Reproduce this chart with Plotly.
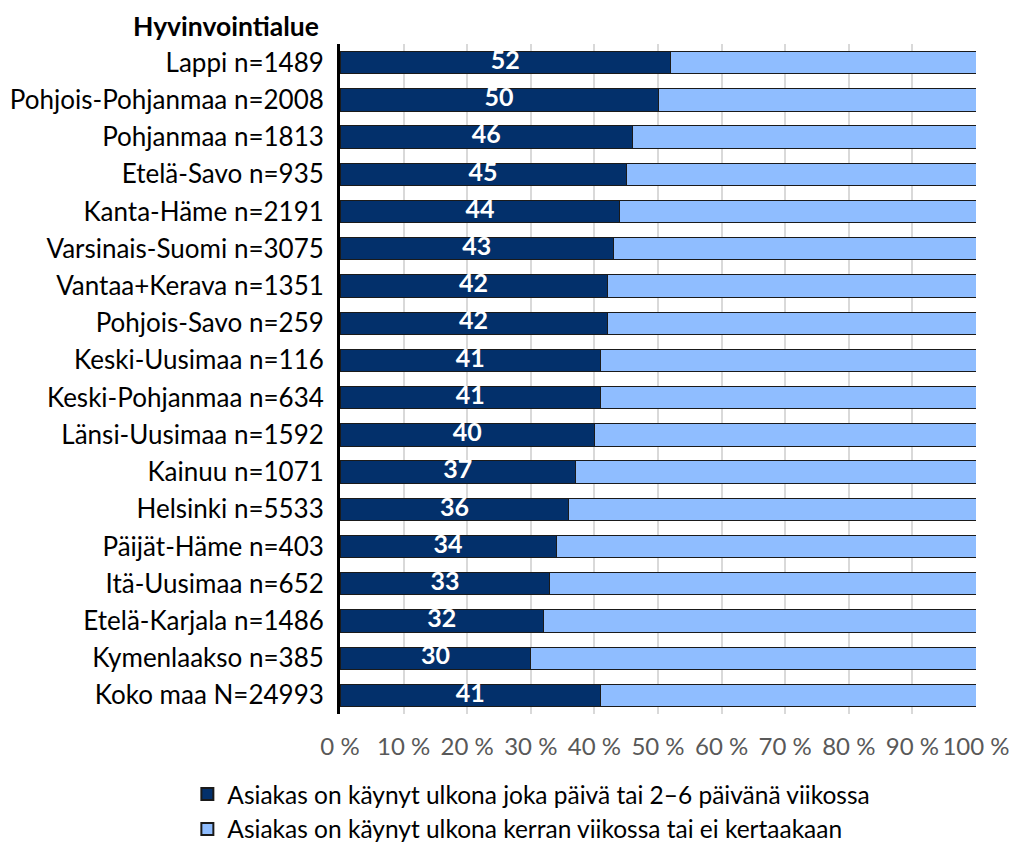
import plotly.graph_objects as go

categories = ["Lappi n=1489", "Pohjois-Pohjanmaa n=2008", "Pohjanmaa n=1813", "Etelä-Savo n=935",
              "Kanta-Häme n=2191", "Varsinais-Suomi n=3075", "Vantaa+Kerava n=1351", "Pohjois-Savo n=259",
              "Keski-Uusimaa n=116", "Keski-Pohjanmaa n=634", "Länsi-Uusimaa n=1592", "Kainuu n=1071",
              "Helsinki n=5533", "Päijät-Häme n=403", "Itä-Uusimaa n=652", "Etelä-Karjala n=1486",
              "Kymenlaakso n=385", "Koko maa N=24993"]
daily = [52, 50, 46, 45, 44, 43, 42, 42, 41, 41, 40, 37, 36, 34, 33, 32, 30, 41]
rarely = [48, 50, 54, 55, 56, 57, 58, 58, 59, 59, 60, 63, 64, 66, 67, 68, 70, 59]
series_names = ["Asiakas on käynyt ulkona joka päivä tai 2–6 päivänä viikossa",
                "Asiakas on käynyt ulkona kerran viikossa tai ei kertaakaan"]
tick_vals = [0, 10, 20, 30, 40, 50, 60, 70, 80, 90, 100]
tick_text = ["0 %", "10 %", "20 %", "30 %", "40 %", "50 %", "60 %", "70 %", "80 %", "90 %", "100 %"]

FONT = "Lato, Open Sans, Noto Sans"

fig = go.Figure()
fig.add_trace(go.Bar(
    y=categories, x=daily, orientation="h", name=series_names[0],
    marker=dict(color="#03306B", line=dict(color="#1a1a1a", width=1)),
    width=0.6,
))
fig.add_trace(go.Bar(
    y=categories, x=rarely, orientation="h", name=series_names[1],
    marker=dict(color="#8FBDFF", line=dict(color="#1a1a1a", width=1)),
    width=0.6,
))
# value labels centred in the dark segments
fig.add_trace(go.Scatter(
    y=categories, x=[v / 2 for v in daily], mode="text",
    text=[f"<b>{v}</b>" for v in daily], textposition="middle center",
    textfont=dict(color="white", size=25, family=FONT),
    showlegend=False, hoverinfo="skip", cliponaxis=False,
))
fig.update_layout(
    barmode="stack",
    width=1017, height=847,
    margin=dict(l=332, r=49, t=36, b=141, autoexpand=False),
    paper_bgcolor="white", plot_bgcolor="white",
    font=dict(family=FONT, size=26, color="black"),
    showlegend=True,
    legend=dict(orientation="v", x=-0.24, y=-0.086, xanchor="left", yanchor="top",
                font=dict(size=24.5, color="black"), traceorder="normal",
                itemsizing="constant", tracegroupgap=0),
    annotations=[dict(text="<b>Hyvinvointialue</b>", x=-0.03, y=1.0, xref="paper", yref="paper",
                      xanchor="right", yanchor="bottom", showarrow=False,
                      font=dict(size=26.5, color="black", family=FONT), yshift=0)],
)
fig.update_xaxes(range=[0, 100], tickvals=tick_vals, ticktext=tick_text,
                 showgrid=True, gridcolor="#d9d9d9", gridwidth=2,
                 tickfont=dict(size=24, color="#595959"), zeroline=False,
                 ticks="", fixedrange=True, ticklabelstandoff=16)
fig.update_yaxes(categoryorder="array", categoryarray=categories, range=[17.5, -0.5],
                 showline=True, linecolor="black", linewidth=3,
                 tickfont=dict(size=26, color="black"), ticks="", ticklabelstandoff=8)
fig.write_html("out.html")
